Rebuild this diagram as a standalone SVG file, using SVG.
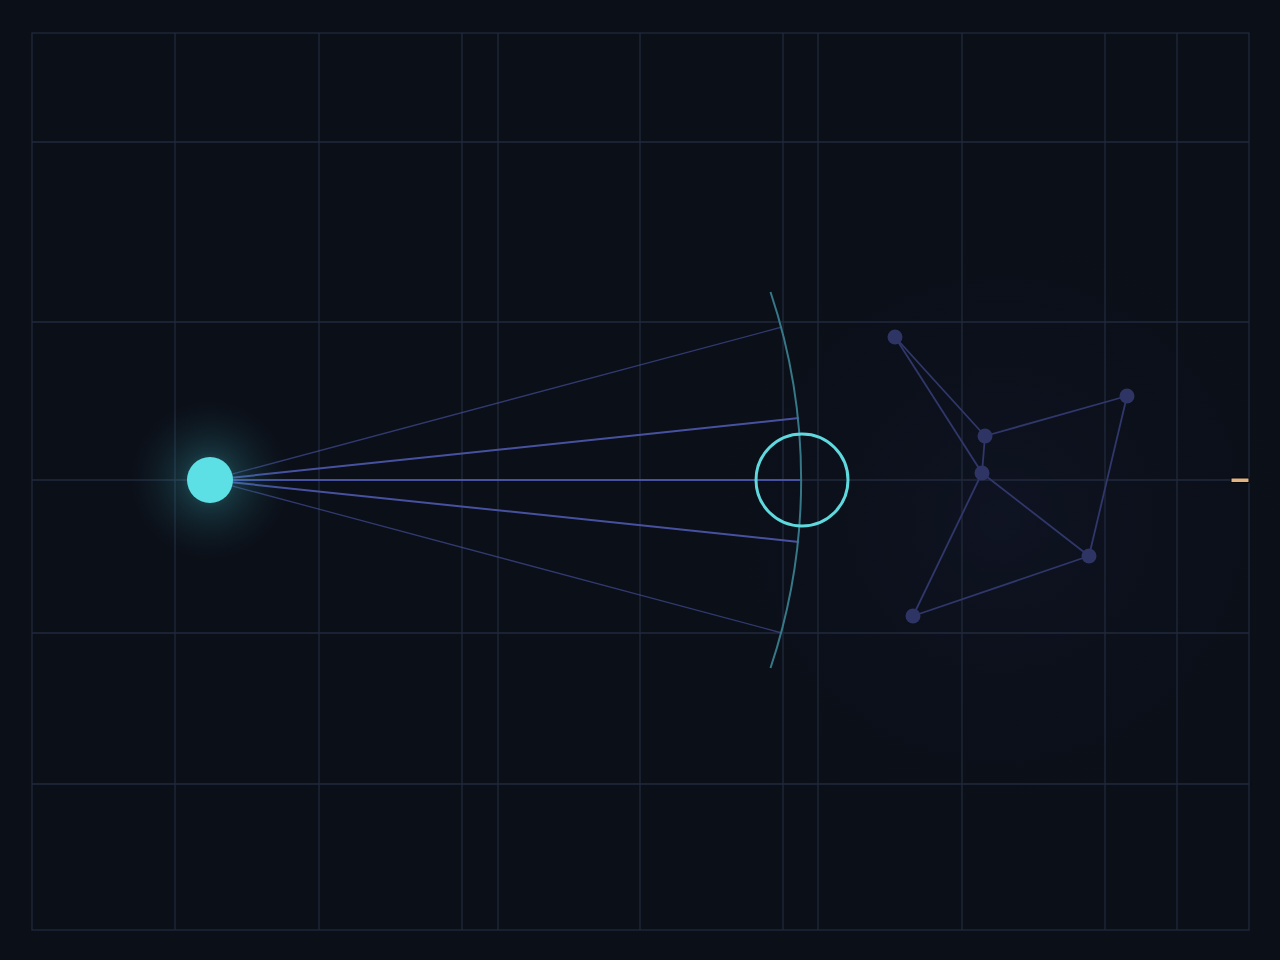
<svg xmlns="http://www.w3.org/2000/svg" width="1280" height="960" viewBox="0 0 1280 960">
  <defs>
    <radialGradient id="glow" cx="210" cy="480" r="80" gradientUnits="userSpaceOnUse">
      <stop offset="0" stop-color="#5ce1e6" stop-opacity="0.5"/>
      <stop offset="0.35" stop-color="#3aa9b3" stop-opacity="0.22"/>
      <stop offset="1" stop-color="#1a4a55" stop-opacity="0"/>
    </radialGradient>
    <radialGradient id="haze" cx="1000" cy="520" r="340" gradientUnits="userSpaceOnUse">
      <stop offset="0" stop-color="#141930" stop-opacity="0.45"/>
      <stop offset="1" stop-color="#0b0f18" stop-opacity="0"/>
    </radialGradient>
    <style>
      .grid line { stroke: #212a3c; stroke-width: 1.3; }
      .ray { stroke: #4b55a8; fill: none; }
      .net line { stroke: #30376a; stroke-width: 1.8; }
      .net circle { fill: #2e3464; }
    </style>
  </defs>
  <rect x="0" y="0" width="1280" height="960" fill="#0b0f18"/>
  <rect x="0" y="0" width="1280" height="960" fill="url(#haze)"/>

  <g id="grid" class="grid">
    <rect x="32" y="33" width="1217" height="897" fill="none" stroke="#212a3c" stroke-width="1.3"/>
    <line x1="175" y1="33" x2="175" y2="930"/>
    <line x1="319" y1="33" x2="319" y2="930"/>
    <line x1="462" y1="33" x2="462" y2="930"/>
    <line x1="498" y1="33" x2="498" y2="930"/>
    <line x1="640" y1="33" x2="640" y2="930"/>
    <line x1="783" y1="33" x2="783" y2="930"/>
    <line x1="818" y1="33" x2="818" y2="930"/>
    <line x1="962" y1="33" x2="962" y2="930"/>
    <line x1="1105" y1="33" x2="1105" y2="930"/>
    <line x1="1177" y1="33" x2="1177" y2="930"/>
    <line x1="32" y1="142" x2="1249" y2="142"/>
    <line x1="32" y1="322" x2="1249" y2="322"/>
    <line x1="32" y1="480" x2="1231" y2="480"/>
    <line x1="32" y1="633" x2="1249" y2="633"/>
    <line x1="32" y1="784" x2="1249" y2="784"/>
  </g>

  <g id="connectors">
    <line class="ray" x1="210" y1="480" x2="782" y2="327" stroke-width="1.3" stroke-opacity="0.6"/>
    <line class="ray" x1="210" y1="480" x2="799" y2="418" stroke-width="2" stroke-opacity="0.95"/>
    <line class="ray" x1="210" y1="480" x2="802" y2="480" stroke-width="2" stroke-opacity="0.95"/>
    <line class="ray" x1="210" y1="480" x2="799" y2="542" stroke-width="2" stroke-opacity="0.95"/>
    <line class="ray" x1="210" y1="480" x2="782" y2="633" stroke-width="1.3" stroke-opacity="0.6"/>
    <g class="net">
      <line x1="895" y1="337" x2="985" y2="436"/>
      <line x1="895" y1="337" x2="982" y2="473"/>
      <line x1="985" y1="436" x2="982" y2="473"/>
      <line x1="985" y1="436" x2="1127" y2="396"/>
      <line x1="1127" y1="396" x2="1089" y2="556"/>
      <line x1="982" y1="473" x2="1089" y2="556"/>
      <line x1="982" y1="473" x2="913" y2="616"/>
      <line x1="913" y1="616" x2="1089" y2="556"/>
    </g>
  </g>

  <g id="wavefront">
    <path d="M770.5,292 A592,592 0 0 1 770.5,668" fill="none" stroke="#367888" stroke-width="2"/>
  </g>

  <g id="source">
    <circle cx="210" cy="480" r="80" fill="url(#glow)"/>
    <circle cx="210" cy="480" r="23" fill="#5ce0e6"/>
  </g>

  <g id="target">
    <circle cx="802" cy="480" r="46" fill="none" stroke="#5fd8de" stroke-width="3"/>
  </g>

  <g id="network" class="net">
    <circle cx="895" cy="337" r="7.5"/>
    <circle cx="985" cy="436" r="7.5"/>
    <circle cx="982" cy="473" r="7.5"/>
    <circle cx="1127" cy="396" r="7.5"/>
    <circle cx="1089" cy="556" r="7.5"/>
    <circle cx="913" cy="616" r="7.5"/>
  </g>

  <g id="marker">
    <rect x="1231" y="478" width="18" height="4.5" fill="#e2b383" stroke="#05070b" stroke-width="1"/>
  </g>
</svg>
